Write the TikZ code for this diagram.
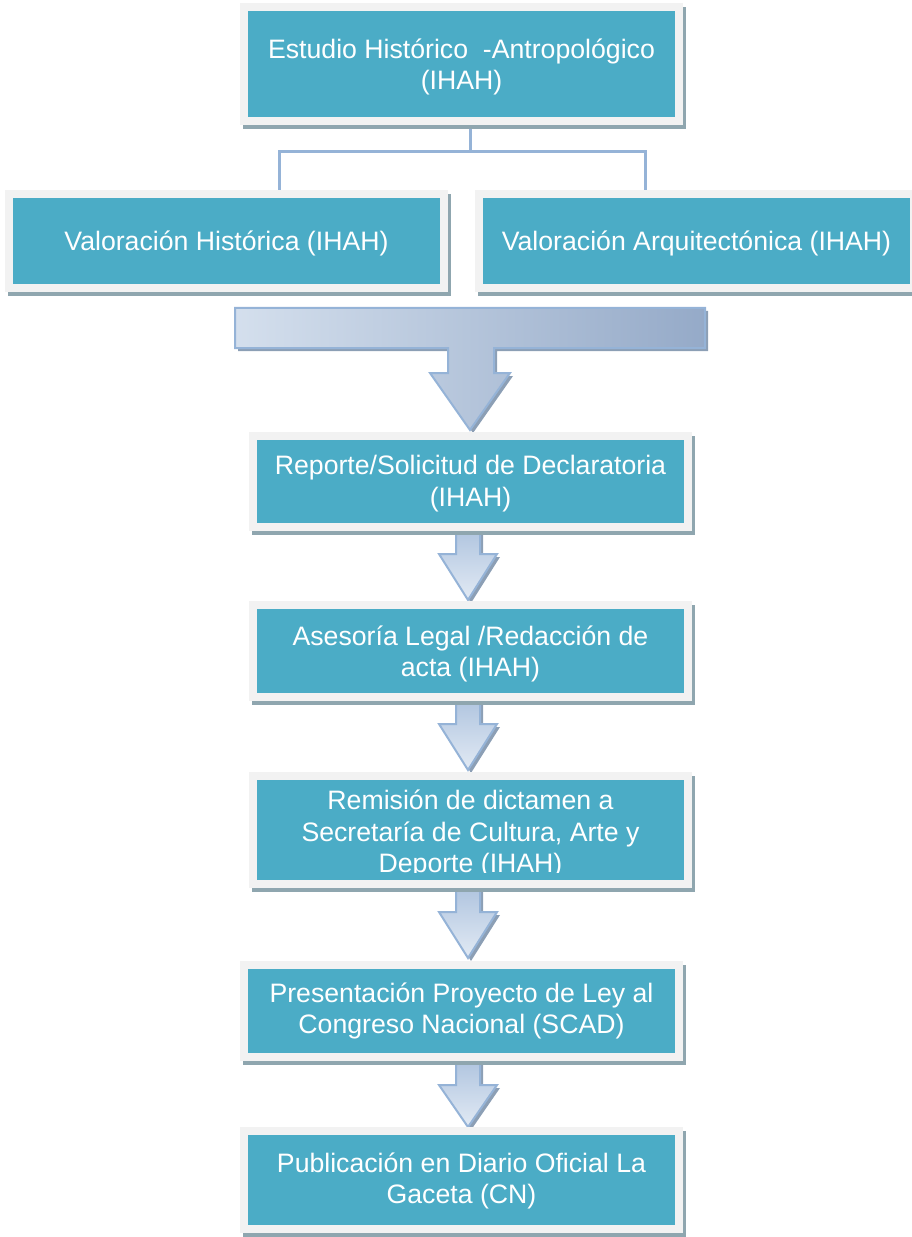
\documentclass[tikz,border=0pt]{standalone}
\usepackage{fontspec}
\setmainfont{Liberation Sans}
\usetikzlibrary{backgrounds,calc}
\definecolor{teal0}{HTML}{4BACC6}
\definecolor{frame0}{HTML}{F2F2F2}
\definecolor{shad0}{HTML}{8FA6AF}
\definecolor{conn0}{HTML}{95B3D7}
\definecolor{arrlight}{HTML}{E2EAF4}
\definecolor{arrmid}{HTML}{D4DFED}
\definecolor{arrdark}{HTML}{95AAC8}
\definecolor{arrtop}{HTML}{AFC4DF}
\definecolor{arrshad}{HTML}{8C9FB5}
\newcommand\smallarrow[2]{%
  \fill[arrshad] (459,#1) -- (483,#1) -- (483,{#1+29}) -- (500,{#1+29}) -- (471,{#2+3}) -- (442,{#1+29}) -- (459,{#1+29}) -- cycle;
  \path[draw=conn0, line width=1.5pt, line join=miter, top color=arrtop, bottom color=arrlight]
    (456,#1) -- (480,#1) -- (480,{#1+26}) -- (497,{#1+26}) -- (468,#2) -- (439,{#1+26}) -- (456,{#1+26}) -- cycle;}
\begin{document}
\begin{tikzpicture}[x=0.75pt,y=-0.75pt,
  boxnode/.style={fill=teal0, draw=frame0, line width=6pt, inner sep=0pt, minimum width=326.25pt},
  boxtext/.style={text=white, align=center, inner sep=0pt, font=\fontsize{20}{23.6}\selectfont},
  conn/.style={draw=conn0, line width=2.25pt},
  shadowbox/.style={fill=shad0}]
\useasboundingbox (0,0) rectangle (912,1237);

% boxes
\node[boxnode, minimum height=85.5pt] (b1) at (461.5,64) {};
\node[boxnode, minimum height=70.5pt] (b2) at (226.5,241) {};
\node[boxnode, minimum height=70.5pt] (b3) at (696.5,241) {};
\node[boxnode, minimum height=68.25pt] (b4) at (470.5,481.5) {};
\node[boxnode, minimum height=69pt] (b5) at (470.5,651) {};
\node[boxnode, minimum height=81pt] (b6) at (470.5,830) {};
\node[boxnode, minimum height=69pt] (b7) at (461.5,1011) {};
\node[boxnode, minimum height=73.5pt] (b8) at (461.5,1180) {};

% texts
\node[boxtext] (t1) at ([yshift=-2.25pt]b1.center) {Estudio Histórico~ -Antropológico\\(IHAH)};
\node[boxtext] (t2) at ([yshift=-1.5pt]b2.center) {Valoración Histórica (IHAH)};
\node[boxtext] (t3) at ([yshift=-1.5pt]b3.center) {Valoración Arquitectónica (IHAH)};
\node[boxtext] (t4) at ([yshift=-1.5pt]b4.center) {Reporte/Solicitud de Declaratoria\\(IHAH)};
\node[boxtext] (t5) at ([yshift=-2.25pt]b5.center) {Asesoría Legal /Redacción de\\acta (IHAH)};
\node[boxtext] (t6) at ([yshift=-3pt]b6.center) {Remisión de dictamen a\\Secretaría de Cultura, Arte y\\Deporte (IHAH)};
\fill[teal0] (257,872.5) rectangle (684,880);
\node[boxtext] (t7) at (b7.center) {Presentación Proyecto de Ley al\\Congreso Nacional (SCAD)};
\node[boxtext] (t8) at ([yshift=-0.75pt]b8.center) {Publicación en Diario Oficial La\\Gaceta (CN)};

\begin{scope}[on background layer]
  % connectors from the top box
  \coordinate (jt) at (470,0 |- b1.south);
  \coordinate (jm) at (470,152);
  \coordinate (jl) at (279,0 |- b2.north);
  \coordinate (jr) at (645,0 |- b3.north);
  \draw[conn] (jt) -- (jm);
  \draw[conn, line join=miter] (jl) -- (jl |- jm) -- (jr |- jm) -- (jr);
  % big merging arrow
  \fill[arrshad] (238,311) -- (708,311) -- (708,351) -- (497,351) -- (497,376) -- (513,376) -- (473,433) -- (433,376) -- (451,376) -- (451,351) -- (238,351) -- cycle;
  \path[draw=conn0, line width=1.5pt, left color=arrmid, middle color=arrlight, right color=arrdark]
    (235,308) -- (705,308) -- (705,348) -- (494,348) -- (494,373) -- (510,373) -- (470,430) -- (430,373) -- (448,373) -- (448,348) -- (235,348) -- cycle;
  % small arrows
  \smallarrow{528}{600}
  \smallarrow{698}{770}
  \smallarrow{886}{958}
  \smallarrow{1059}{1127}
  % box shadows
  \foreach \n in {b1,b2,b3,b4,b5,b6,b7,b8}
    \fill[shadowbox] ([shift={(3,4)}]\n.north west) rectangle ([shift={(3,4)}]\n.south east);
\end{scope}
\end{tikzpicture}
\end{document}
